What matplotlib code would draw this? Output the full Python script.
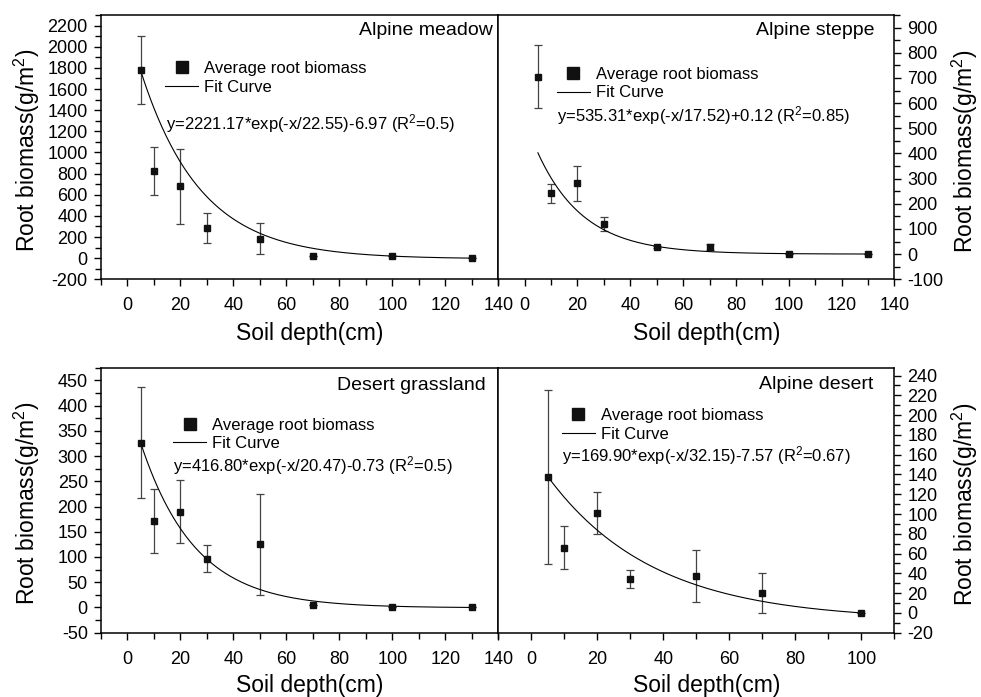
import numpy as np
import matplotlib
matplotlib.use("Agg")
import matplotlib.pyplot as plt
from matplotlib.ticker import MultipleLocator
from matplotlib.lines import Line2D

plt.rcParams['font.family'] = ['Liberation Sans', 'DejaVu Sans']
plt.rcParams['mathtext.default'] = 'regular'
plt.rcParams['axes.unicode_minus'] = False

# ---------------- data ----------------
titles = ["Alpine meadow", "Alpine steppe", "Desert grassland", "Alpine desert"]

meadow_depth = [5, 10, 20, 30, 50, 70, 100, 130]
meadow_mean = [1779, 825, 682, 288, 183, 16, 19, 0]
meadow_err = [325, 229, 355, 143, 148, 0, 0, 0]

steppe_depth = [5, 10, 20, 30, 50, 70, 100, 130]
steppe_mean = [705, 241, 281, 120, 28, 28, 0, 0]
steppe_err = [125, 37, 68, 27, 5, 12, 0, 0]

grass_depth = [5, 10, 20, 30, 50, 70, 100, 130]
grass_mean = [326, 171, 190, 97, 125, 5, 1, 0]
grass_err = [110, 64, 62, 27, 100, 0, 0, 0]

desert_depth = [5, 10, 20, 30, 50, 70, 100]
desert_mean = [137, 66, 101, 34, 37.5, 20, 0]
desert_err = [88, 21.5, 21.5, 9, 26, 20.5, 0]

# fit parameters: a*exp(-x/b)+c
fit_params = [(2221.17, 22.55, -6.97), (535.31, 17.52, 0.12),
              (416.80, 20.47, -0.73), (169.90, 32.15, -7.57)]
fit_range = [(5, 130), (5, 130), (5, 130), (5, 100)]
equations = ["y=2221.17*exp(-x/22.55)-6.97 (R$^2$=0.5)",
             "y=535.31*exp(-x/17.52)+0.12 (R$^2$=0.85)",
             "y=416.80*exp(-x/20.47)-0.73 (R$^2$=0.5)",
             "y=169.90*exp(-x/32.15)-7.57 (R$^2$=0.67)"]

ylims = [(-200, 2300), (-100, 950), (-50, 475), (-20, 248)]
ymajor = [200, 100, 50, 20]
xlims = [(-10, 140), (-10, 140), (-10, 140), (-10, 110)]

series = [(meadow_depth, meadow_mean, meadow_err),
          (steppe_depth, steppe_mean, steppe_err),
          (grass_depth, grass_mean, grass_err),
          (desert_depth, desert_mean, desert_err)]

# ---------------- layout ----------------
W, H = 981, 697
fig = plt.figure(figsize=(W / 100, H / 100), dpi=100)

def frac(l, t, r, b):
    return [l / W, 1 - b / H, (r - l) / W, (b - t) / H]

rects = [frac(101, 15, 498.3, 279.3), frac(498.3, 15, 894.3, 279.3),
         frac(101, 367.7, 498.3, 632.7), frac(498.3, 367.7, 894.3, 632.7)]

legend_pos = [(0.161, 0.762), (0.147, 0.740), (0.181, 0.748), (0.160, 0.784)]
eq_pos = [(0.163, 0.588), (0.147, 0.619), (0.181, 0.629), (0.160, 0.668)]
title_pos = [(0.987, 0.941), (0.951, 0.941), (0.968, 0.931), (0.948, 0.935)]
xlabel_y = [-0.205, -0.205, -0.201, -0.201]

for i in range(4):
    ax = fig.add_axes(rects[i])
    x, y, e = series[i]
    right = (i % 2 == 1)

    ax.errorbar(x, y, yerr=e, fmt='none', ecolor='#444444', elinewidth=0.9,
                capsize=2.6, capthick=0.9, zorder=2)
    a, b, c = fit_params[i]
    xf = np.linspace(fit_range[i][0], fit_range[i][1], 300)
    ax.plot(xf, a * np.exp(-xf / b) + c, color='black', lw=0.8, zorder=3)
    ax.plot(x, y, 's', color='#111111', markersize=5, zorder=4)

    h_pt = Line2D([], [], marker='s', color='#111111', linestyle='none', markersize=8.6)
    h_ln = Line2D([], [], color='black', lw=0.8)
    ax.legend([h_pt, h_ln], ["Average root biomass", "Fit Curve"],
              loc='center left', bbox_to_anchor=legend_pos[i], frameon=False,
              borderpad=0, borderaxespad=0, handlelength=2.0, handletextpad=0.35,
              labelspacing=0.2, fontsize=12)

    ax.text(eq_pos[i][0], eq_pos[i][1], equations[i], transform=ax.transAxes,
            ha='left', va='center', fontsize=12)
    ax.text(title_pos[i][0], title_pos[i][1], titles[i], transform=ax.transAxes,
            ha='right', va='center', fontsize=14)

    ax.set_xlim(*xlims[i])
    ax.set_ylim(*ylims[i])
    ax.xaxis.set_major_locator(MultipleLocator(20))
    ax.xaxis.set_minor_locator(MultipleLocator(10))
    ax.yaxis.set_major_locator(MultipleLocator(ymajor[i]))
    ax.yaxis.set_minor_locator(MultipleLocator(ymajor[i] / 2))

    for s in ax.spines.values():
        s.set_linewidth(1.1)

    ax.tick_params(axis='x', which='both', direction='out', labelsize=13, pad=8,
                   width=1.0, top=False)
    ax.tick_params(axis='x', which='major', length=5)
    ax.tick_params(axis='x', which='minor', length=4)
    ax.tick_params(axis='y', which='both', labelsize=13, pad=4.5, width=1.0)
    ax.tick_params(axis='y', which='major', length=5)
    ax.tick_params(axis='y', which='minor', length=4)

    ax.set_xlabel("Soil depth(cm)", fontsize=16.5, va='center')
    ax.xaxis.set_label_coords(0.525, xlabel_y[i])
    if right:
        ax.yaxis.tick_right()
        ax.yaxis.set_label_position('right')
        ax.set_ylabel("Root biomass(g/m$^2$)", fontsize=16.5, va='center', rotation=90)
        ax.yaxis.set_label_coords(1.178, 0.485)
    else:
        ax.set_ylabel("Root biomass(g/m$^2$)", fontsize=16.5, va='center')
        ax.yaxis.set_label_coords(-0.186, 0.49)

fig.savefig("out.png", dpi=100)
